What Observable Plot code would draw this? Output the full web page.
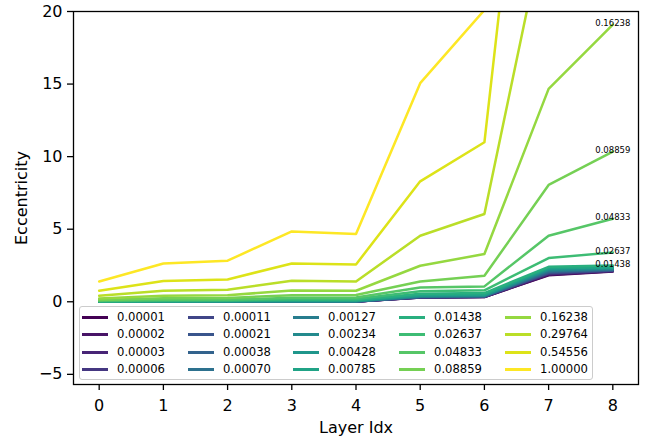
<!DOCTYPE html>
<html>
<head>
<meta charset="utf-8">
<script src="https://cdn.jsdelivr.net/npm/d3@7"></script>
<script src="https://cdn.jsdelivr.net/npm/@observablehq/plot@0.6"></script>
<style>
  html, body { margin: 0; padding: 0; background: #fff; }
  #wrap { position: relative; width: 648px; height: 440px; font-family: "DejaVu Sans", sans-serif; }
  #legend {
    position: absolute; left: 79px; top: 306px; width: 512px; height: 72px;
    background: rgba(255,255,255,0.8); border: 1px solid #cccccc; border-radius: 3px;
    font-size: 11.6px; color: #000;
  }
  .item { position: absolute; height: 14px; line-height: 14px; white-space: nowrap; }
  .swatch { position: absolute; left: 0; top: 6px; width: 26px; height: 3px; }
  .lab { position: absolute; left: 35px; top: 0; }
</style>
</head>
<body>
<div id="wrap"></div>
<script>
// Layer indices on the x axis
const layers = [0, 1, 2, 3, 4, 5, 6, 7, 8];

// Regularisation strengths, one line per value
const regLabels = [
  "0.00001", "0.00002", "0.00003", "0.00006",
  "0.00011", "0.00021", "0.00038", "0.00070",
  "0.00127", "0.00234", "0.00428", "0.00785",
  "0.01438", "0.02637", "0.04833", "0.08859",
  "0.16238", "0.29764", "0.54556", "1.00000"
];

// Eccentricity per layer for each regularisation strength
const ecc00001 = [0.00, 0.00, 0.00, 0.01, 0.01, 0.29, 0.33, 1.82, 2.08];
const ecc00002 = [0.00, 0.00, 0.00, 0.01, 0.01, 0.30, 0.33, 1.86, 2.10];
const ecc00003 = [0.00, 0.00, 0.01, 0.01, 0.01, 0.30, 0.34, 1.90, 2.12];
const ecc00006 = [0.00, 0.00, 0.01, 0.01, 0.02, 0.31, 0.35, 1.94, 2.14];
const ecc00011 = [0.00, 0.01, 0.01, 0.01, 0.02, 0.32, 0.35, 1.98, 2.16];
const ecc00021 = [0.00, 0.01, 0.01, 0.02, 0.02, 0.33, 0.36, 2.02, 2.18];
const ecc00038 = [0.00, 0.01, 0.01, 0.02, 0.03, 0.34, 0.38, 2.06, 2.20];
const ecc00070 = [0.01, 0.01, 0.02, 0.03, 0.03, 0.35, 0.39, 2.11, 2.23];
const ecc00127 = [0.01, 0.02, 0.02, 0.03, 0.04, 0.37, 0.41, 2.16, 2.26];
const ecc00234 = [0.01, 0.02, 0.03, 0.04, 0.05, 0.39, 0.43, 2.21, 2.29];
const ecc00428 = [0.02, 0.03, 0.04, 0.06, 0.06, 0.42, 0.46, 2.27, 2.32];
const ecc00785 = [0.02, 0.04, 0.05, 0.08, 0.08, 0.46, 0.50, 2.33, 2.36];
const ecc01438 = [0.03, 0.06, 0.07, 0.12, 0.12, 0.55, 0.60, 2.41, 2.50];
const ecc02637 = [0.05, 0.09, 0.10, 0.18, 0.19, 0.72, 0.79, 3.01, 3.40];
const ecc04833 = [0.08, 0.14, 0.15, 0.27, 0.29, 0.98, 1.06, 4.55, 5.72];
const ecc08859 = [0.13, 0.24, 0.26, 0.45, 0.47, 1.40, 1.79, 8.05, 10.35];
const ecc16238 = [0.22, 0.41, 0.45, 0.78, 0.76, 2.48, 3.29, 14.67, 19.10];
const ecc29764 = [0.41, 0.76, 0.83, 1.45, 1.40, 4.55, 6.05, 27.2, 48.0];
const ecc54556 = [0.76, 1.43, 1.54, 2.64, 2.57, 8.30, 10.99, 50.2, 90.0];
const ecc100000 = [1.40, 2.64, 2.83, 4.85, 4.67, 15.06, 20.10, 58.0, 114.0];

const series = [
  ecc00001, ecc00002, ecc00003, ecc00006, ecc00011, ecc00021, ecc00038,
  ecc00070, ecc00127, ecc00234, ecc00428, ecc00785, ecc01438, ecc02637,
  ecc04833, ecc08859, ecc16238, ecc29764, ecc54556, ecc100000
];

// Lines annotated with their strength at the last layer
const annotated = ["0.01438", "0.02637", "0.04833", "0.08859", "0.16238"];

const yTicks = [-5, 0, 5, 10, 15, 20];

const colors = regLabels.map((_, i) => d3.interpolateViridis(i / (regLabels.length - 1)));

const rows = regLabels.flatMap((reg, i) =>
  layers.map((layer, j) => ({ reg, layer, ecc: series[i][j] }))
);
const lastLayer = layers[layers.length - 1];
const endRows = rows.filter(d => d.layer === lastLayer && annotated.includes(d.reg));

const minus = d => (d < 0 ? "\u2212" + Math.abs(d) : String(d));

const chart = Plot.plot({
  width: 648,
  height: 440,
  marginLeft: 73,
  marginRight: 10,
  marginTop: 11,
  marginBottom: 56,
  style: { fontFamily: "DejaVu Sans", fontSize: "16px", color: "#000", background: "#fff", overflow: "visible" },
  x: { domain: [-0.4, 8.4] },
  y: { domain: [-5.7, 20] },
  color: { type: "ordinal", domain: regLabels, range: colors },
  marks: [
    Plot.line(rows, { x: "layer", y: "ecc", z: "reg", stroke: "reg", strokeWidth: 2.5, clip: true }),
    Plot.text(endRows, { x: "layer", y: "ecc", text: "reg", fontSize: 8.5, dy: -1.5, textAnchor: "middle", fill: "#000" }),
    Plot.frame({ stroke: "#000", strokeWidth: 1.3 }),
    Plot.axisX({
      ticks: layers, tickFormat: d => String(d), tickSize: 6, tickPadding: 9, strokeWidth: 1.3,
      label: "Layer Idx", labelAnchor: "center", labelArrow: "none", labelOffset: 48
    }),
    Plot.axisY({
      ticks: yTicks, tickFormat: minus, tickSize: 6, tickPadding: 5, strokeWidth: 1.3,
      label: "Eccentricity", labelAnchor: "center", labelArrow: "none", labelOffset: 58
    })
  ]
});

const wrap = document.getElementById("wrap");
wrap.appendChild(chart);

// Legend: 5 columns x 4 rows, filled column by column
const legend = d3.select(wrap).append("div").attr("id", "legend");
regLabels.forEach((reg, i) => {
  const col = Math.floor(i / 4), row = i % 4;
  const item = legend.append("div").attr("class", "item")
    .style("left", Math.round(2 + col * 105.7) + "px")
    .style("top", Math.round(3 + row * 17.4) + "px");
  item.append("div").attr("class", "swatch").style("background", colors[i]);
  item.append("div").attr("class", "lab").text(reg);
});
</script>
</body>
</html>
